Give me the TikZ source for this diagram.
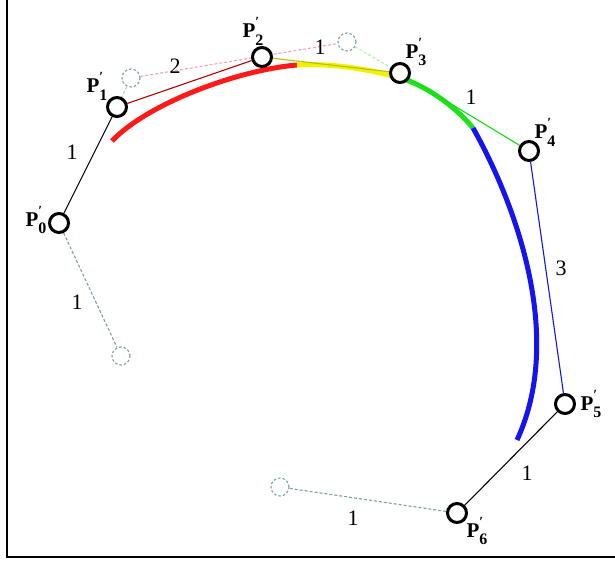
\documentclass[tikz,border=0pt]{standalone}
\usepackage{fontspec}
\setmainfont{Liberation Serif}
\usetikzlibrary{backgrounds}
\definecolor{ghost}{HTML}{7F9DA6}
\definecolor{darkred}{HTML}{B00000}
\definecolor{olive}{HTML}{B8C000}
\definecolor{pinkd}{HTML}{F4A0BE}
\definecolor{lgreen}{HTML}{B0F0B0}
\definecolor{mgreen}{HTML}{10E010}
\definecolor{cred}{HTML}{FF1A1A}
\definecolor{cyel}{HTML}{F2F200}
\definecolor{cgreen}{HTML}{20E020}
\definecolor{cblue}{HTML}{1414F0}
\definecolor{lghost}{HTML}{B4C8D0}
\newcommand\plab[1]{\fontsize{21}{23}\selectfont\textbf{P}\makebox[0pt][l]{\raisebox{0.55em}{\fontsize{14}{14}\selectfont\bfseries\char"2032}}\raisebox{-0.35em}{\fontsize{16}{16}\selectfont\bfseries #1}}
\tikzset{
  ctrl/.style={circle,draw=black,line width=3pt,fill=white,minimum size=19pt,inner sep=0pt},
  ghostpt/.style={circle,draw=ghost,dash pattern=on 2.5pt off 2pt,line width=1.1pt,minimum size=18pt,inner sep=0pt},
  lbl/.style={inner sep=0pt,font=\fontsize{22}{24}\selectfont},
  plbl/.style={inner sep=0pt},
  curv/.style={line width=5pt},
  thin/.style={line width=1.1pt},
  ghostline/.style={ghost,line width=1.1pt,dash pattern=on 3pt off 2pt},
}
\begin{document}
\begin{tikzpicture}[x=1pt,y=-1pt]
\useasboundingbox (0,0) rectangle (615,560);
% frame
\draw[line width=2.5pt] (7,0) -- (7,557) -- (615,557);
% control points
\node[ctrl] (p0) at (59,223) {};
\node[ctrl] (p1) at (117,107) {};
\node[ctrl] (p2) at (262,57) {};
\node[ctrl] (p3) at (400,73) {};
\node[ctrl] (p4) at (529,151) {};
\node[ctrl] (p5) at (565,404) {};
\node[ctrl] (p6) at (457,513) {};
\node[ghostpt] (g0) at (121,356) {};
\node[ghostpt] (g1) at (131,78) {};
\node[ghostpt] (g2) at (347,42) {};
\node[ghostpt] (g6) at (280,487) {};
% point labels
\node[plbl] (l0) at (36,220) {\plab{0}};
\node[plbl] (l1) at (97,86) {\plab{1}};
\node[plbl] (l2) at (253,31) {\plab{2}};
\node[plbl] (l3) at (416,52) {\plab{3}};
\node[plbl] (l4) at (545,132) {\plab{4}};
\node[plbl] (l5) at (591,404) {\plab{5}};
\node[plbl] (l6) at (477,531) {\plab{6}};
% weights
\node[lbl] (w01) at (72,152) {1};
\node[lbl] (w12) at (175,66) {2};
\node[lbl] (w23) at (320,47) {1};
\node[lbl] (w34) at (471,97) {1};
\node[lbl] (w45) at (561,268) {3};
\node[lbl] (w56) at (527,473) {1};
\node[lbl] (w6g) at (353,518) {1};
\node[lbl] (w0g) at (77,302) {1};
\begin{pgfonlayer}{background}
% curve
\draw[curv,cred] (112,141) .. controls (147,104) and (237,70) .. (297,65);
\draw[curv,cyel] (297,65) .. controls (332,63) and (368,69) .. (400,78);
\draw[curv,cgreen] (400,78) .. controls (425,85) and (455,106) .. (473,128);
\draw[curv,cblue] (473,128) .. controls (508,190) and (568,330) .. (517,440);
% polygon
\draw[thin,black] (p0) -- (p1);
\draw[thin,darkred] (p1) -- (p2);
\draw[thin,olive] (p2) -- (p3);
\draw[thin,mgreen] (p3) -- (p4);
\draw[thin,cblue] (p4) -- (p5);
\draw[thin,black] (p5) -- (p6);
% ghost connectors
\draw[line width=1.1pt,pinkd,dash pattern=on 3pt off 2pt] (g1) -- (g2);
\draw[line width=1.1pt,lgreen,dash pattern=on 3pt off 2pt] (g2) -- (p3);
\draw[line width=1.1pt,lghost,dash pattern=on 3pt off 2pt] (g1) -- (p1);
\draw[ghostline] (p0) -- (g0);
\draw[ghostline] (p6) -- (g6);
\end{pgfonlayer}
\end{tikzpicture}
\end{document}
